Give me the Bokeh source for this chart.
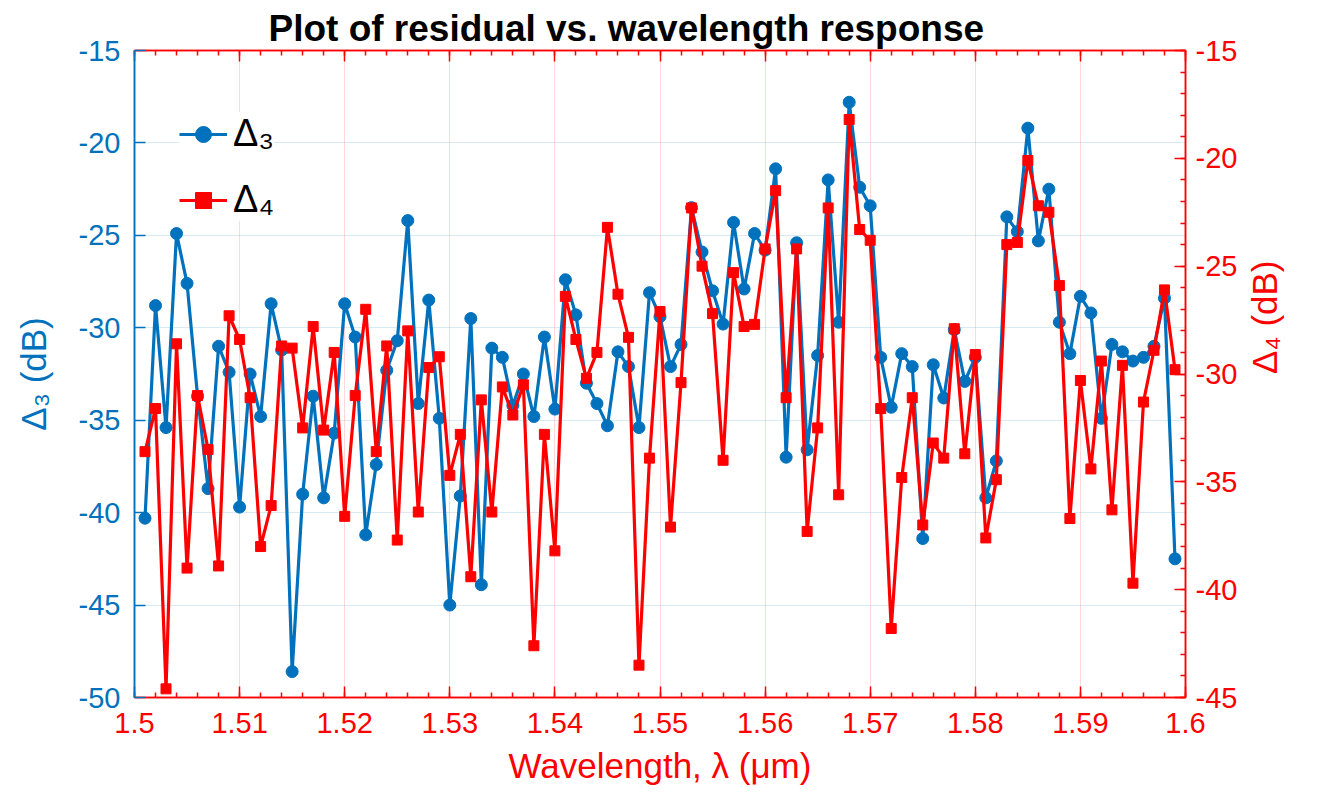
import math

from bokeh.embed import file_html
from bokeh.models import (CustomLabelingPolicy, FixedTicker, Legend, LegendItem,
                          LinearAxis, Range1d)
from bokeh.plotting import figure
from bokeh.resources import INLINE

BLUE = "#0072BD"
RED = "#FF0000"
FONT = "Liberation Sans"

# wavelength samples (um), 1.501 .. 1.599
wavelength = [round(1.5 + 0.001 * k, 3) for k in range(1, 100)]

delta3 = [
    -40.3, -28.8, -35.4, -24.9, -27.6, -33.7, -38.7, -31.0, -32.4, -39.7,
    -32.5, -34.8, -28.7, -31.2, -48.6, -39.0, -33.7, -39.2, -35.7, -28.7,
    -30.5, -41.2, -37.4, -32.3, -30.7, -24.2, -34.1, -28.5, -34.9, -45.0,
    -39.1, -29.5, -43.9, -31.1, -31.6, -34.2, -32.5, -34.8, -30.5, -34.4,
    -27.4, -29.3, -33.0, -34.1, -35.3, -31.3, -32.1, -35.4, -28.1, -29.4,
    -32.1, -30.9, -23.5, -25.9, -28.0, -29.8, -24.3, -27.9, -24.9, -25.8,
    -21.4, -37.0, -25.4, -36.6, -31.5, -22.0, -29.7, -17.8, -22.4, -23.4,
    -31.6, -34.3, -31.4, -32.1, -41.4, -32.0, -33.8, -30.1, -32.9, -31.6,
    -39.2, -37.2, -24.0, -24.8, -19.2, -25.3, -22.5, -29.7, -31.4, -28.3,
    -29.2, -34.9, -30.9, -31.3, -31.8, -31.6, -31.0, -28.4, -42.5,
]

delta4 = [
    -33.6, -31.6, -44.6, -28.6, -39.0, -31.0, -33.5, -38.9, -27.3, -28.4,
    -31.1, -38.0, -36.1, -28.7, -28.8, -32.5, -27.8, -32.6, -29.0, -36.6,
    -31.0, -27.0, -33.6, -28.7, -37.7, -28.0, -36.4, -29.7, -29.2, -34.7,
    -32.8, -39.4, -31.2, -36.4, -30.6, -31.9, -30.5, -42.6, -32.8, -38.2,
    -26.4, -28.4, -30.2, -29.0, -23.2, -26.3, -28.3, -43.5, -33.9, -27.1,
    -37.1, -30.4, -22.3, -25.0, -27.2, -34.0, -25.3, -27.8, -27.7, -24.2,
    -21.5, -31.1, -24.2, -37.3, -32.5, -22.3, -35.6, -18.2, -23.3, -23.8,
    -31.6, -41.8, -34.8, -31.1, -37.0, -33.2, -33.9, -27.9, -33.7, -29.1,
    -37.6, -34.9, -24.0, -23.9, -20.1, -22.2, -22.5, -25.9, -36.7, -30.3,
    -34.4, -29.4, -36.3, -29.6, -39.7, -31.3, -28.9, -26.1, -29.8,
]

x_ticks = [1.5, 1.51, 1.52, 1.53, 1.54, 1.55, 1.56, 1.57, 1.58, 1.59, 1.6]
x_tick_labels = ["1.5", "1.51", "1.52", "1.53", "1.54", "1.55", "1.56", "1.57", "1.58", "1.59", "1.6"]
left_ticks = [-50, -45, -40, -35, -30, -25, -20, -15]
right_ticks = [-45, -40, -35, -30, -25, -20, -15]

p = figure(width=1307, height=801, x_range=(1.5, 1.6), y_range=(-50, -15),
           output_backend="svg", toolbar_location=None,
           min_border_left=134, min_border_right=122, min_border_top=50, min_border_bottom=104)
p.extra_y_ranges = {"right": Range1d(-45, -15)}
p.outline_line_color = RED
p.outline_line_width = 1.5

p.title.text = "Plot of residual vs. wavelength response"
p.title.text_font = FONT
p.title.text_font_size = "37px"
p.title.text_font_style = "bold"
p.title.text_color = "black"
p.title.align = "left"
p.title.offset = 134
p.title.standoff = 4

x_ticker = FixedTicker(ticks=x_ticks, minor_ticks=[round(1.5 + 0.002 * k, 3) for k in range(51)])
x_overrides = {t: s for t, s in zip(x_ticks, x_tick_labels)}


def style_axis(ax, color, size="29px"):
    ax.axis_line_color = color
    ax.axis_line_width = 1.5
    ax.major_tick_line_color = color
    ax.minor_tick_line_color = color
    ax.major_tick_line_width = 1.5
    ax.minor_tick_line_width = 1.5
    ax.major_tick_in = 11
    ax.major_tick_out = 0
    ax.minor_tick_in = 5
    ax.minor_tick_out = 0
    ax.major_label_text_color = color
    ax.major_label_text_font = FONT
    ax.major_label_text_font_size = size
    ax.axis_label_text_color = color
    ax.axis_label_text_font = FONT
    ax.axis_label_text_font_size = "35px"
    ax.axis_label_text_font_style = "normal"


# bottom axis
xa = p.xaxis[0]
xa.ticker = x_ticker
xa.major_label_overrides = x_overrides
xa.axis_label = "Wavelength, λ (μm)"
style_axis(xa, RED)
xa.major_label_standoff = 15
xa.axis_label_standoff = 10

# top axis: ticks only, no labels drawn at all
top = LinearAxis(ticker=x_ticker, major_label_standoff=0,
                 major_label_policy=CustomLabelingPolicy(code="return new Set()"))
style_axis(top, RED, "0px")
p.add_layout(top, "above")

# left axis
ya = p.yaxis[0]
ya.ticker = FixedTicker(ticks=left_ticks)
ya.major_label_overrides = {t: str(t) for t in left_ticks}
ya.axis_label = "Δ₃ (dB)"
style_axis(ya, BLUE)
ya.major_label_standoff = 14
ya.axis_label_standoff = 23

# right axis, label reads bottom-to-top like the left one
ra = LinearAxis(y_range_name="right",
                ticker=FixedTicker(ticks=right_ticks, minor_ticks=list(range(-45, -14))))
ra.major_label_overrides = {t: str(t) for t in right_ticks}
ra.axis_label = "Δ₄ (dB)"
style_axis(ra, RED)
ra.major_label_standoff = 10
ra.axis_label_standoff = 24
ra.axis_label_orientation = math.pi / 2
p.add_layout(ra, "right")

p.xgrid.grid_line_color = RED
p.xgrid.grid_line_alpha = 0.15
p.ygrid.grid_line_color = BLUE
p.ygrid.grid_line_alpha = 0.15

l3 = p.line(wavelength, delta3, line_color=BLUE, line_width=3.2)
s3 = p.scatter(wavelength, delta3, marker="circle", size=12, fill_color=BLUE, line_color=BLUE)
l4 = p.line(wavelength, delta4, line_color=RED, line_width=3.2, y_range_name="right")
s4 = p.scatter(wavelength, delta4, marker="square", size=10, fill_color=RED, line_color=RED,
               y_range_name="right")

legend = Legend(items=[LegendItem(label="Δ₃", renderers=[l3, s3]),
                       LegendItem(label="Δ₄", renderers=[l4, s4])],
                location=(45, 476), margin=0, padding=7, spacing=23,
                glyph_width=48, glyph_height=40, label_height=40,
                label_text_font=FONT, label_text_font_size="38px", label_standoff=6,
                label_text_color="black",
                border_line_color=None, background_fill_color="white", background_fill_alpha=1)
p.add_layout(legend)

open("out.html", "w").write(file_html(p, INLINE))
